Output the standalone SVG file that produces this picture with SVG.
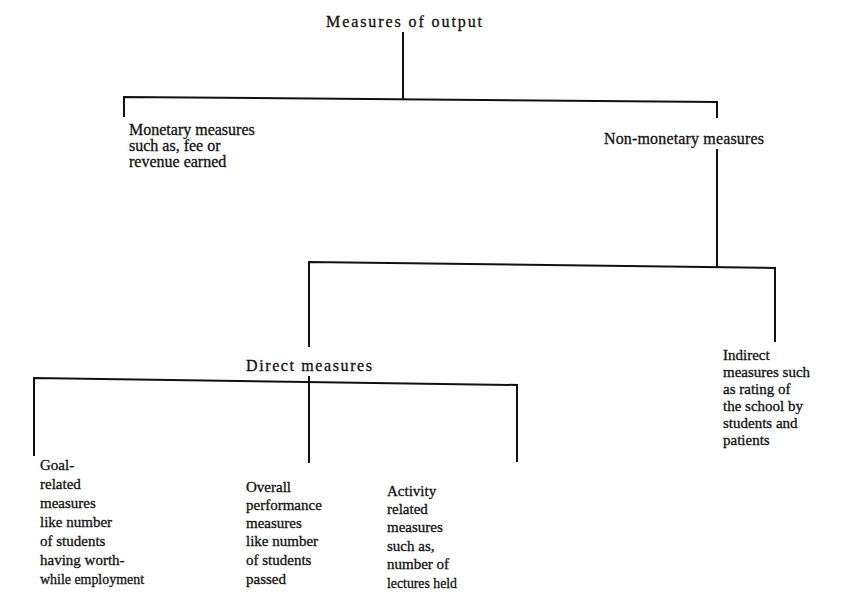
<svg xmlns="http://www.w3.org/2000/svg" width="841" height="607" viewBox="0 0 841 607">
  <style>
    .lbl { font-family: "Liberation Serif", "Times New Roman", serif; font-size: 15px; fill: #111; stroke: #111; stroke-width: 0.3; }
    .big { font-size: 16px; }
    .wire { fill: none; stroke: #111; stroke-width: 2; stroke-linecap: square; stroke-linejoin: miter; }
  </style>
  <rect width="841" height="607" fill="#fff"/>

  <!-- tree connectors -->
  <g id="connectors">
    <path class="wire" d="M403,33 V99"/>
    <path class="wire" d="M124,116 V97 L717,102 V117"/>
    <path class="wire" d="M717,150 V266"/>
    <path class="wire" d="M309,346 V262 L775,268 V341"/>
    <path class="wire" d="M309,377 V462"/>
    <path class="wire" d="M34,455 V378 L517,385 V461"/>
  </g>

  <g id="root">
    <text class="lbl big" x="404" y="27" text-anchor="middle" textLength="156" lengthAdjust="spacing">Measures of output</text>
  </g>

  <g id="monetary">
    <text class="lbl big" x="129" y="135">Monetary measures</text>
    <text class="lbl big" x="129" y="151">such as, fee or</text>
    <text class="lbl big" x="129" y="167">revenue earned</text>
  </g>

  <g id="non-monetary">
    <text class="lbl big" x="604" y="144" textLength="160" lengthAdjust="spacing">Non-monetary measures</text>
  </g>

  <g id="direct">
    <text class="lbl big" x="309" y="371" text-anchor="middle" textLength="126" lengthAdjust="spacing">Direct measures</text>
  </g>

  <g id="indirect">
    <text class="lbl" x="723" y="360">Indirect</text>
    <text class="lbl" x="723" y="377">measures such</text>
    <text class="lbl" x="723" y="394">as rating of</text>
    <text class="lbl" x="723" y="411">the school by</text>
    <text class="lbl" x="723" y="428">students and</text>
    <text class="lbl" x="723" y="445">patients</text>
  </g>

  <g id="goal-related">
    <text class="lbl" x="40" y="470">Goal-</text>
    <text class="lbl" x="40" y="489">related</text>
    <text class="lbl" x="40" y="508">measures</text>
    <text class="lbl" x="40" y="527">like number</text>
    <text class="lbl" x="40" y="546">of students</text>
    <text class="lbl" x="40" y="565">having worth-</text>
    <text class="lbl" x="40" y="584" textLength="104" lengthAdjust="spacingAndGlyphs">while employment</text>
  </g>

  <g id="overall">
    <text class="lbl" x="246" y="492">Overall</text>
    <text class="lbl" x="246" y="510">performance</text>
    <text class="lbl" x="246" y="528">measures</text>
    <text class="lbl" x="246" y="546">like number</text>
    <text class="lbl" x="246" y="565">of students</text>
    <text class="lbl" x="246" y="584">passed</text>
  </g>

  <g id="activity">
    <text class="lbl" x="387" y="496">Activity</text>
    <text class="lbl" x="387" y="514">related</text>
    <text class="lbl" x="387" y="532">measures</text>
    <text class="lbl" x="387" y="551">such as,</text>
    <text class="lbl" x="387" y="569">number of</text>
    <text class="lbl" x="387" y="588" textLength="70" lengthAdjust="spacingAndGlyphs">lectures held</text>
  </g>
</svg>
